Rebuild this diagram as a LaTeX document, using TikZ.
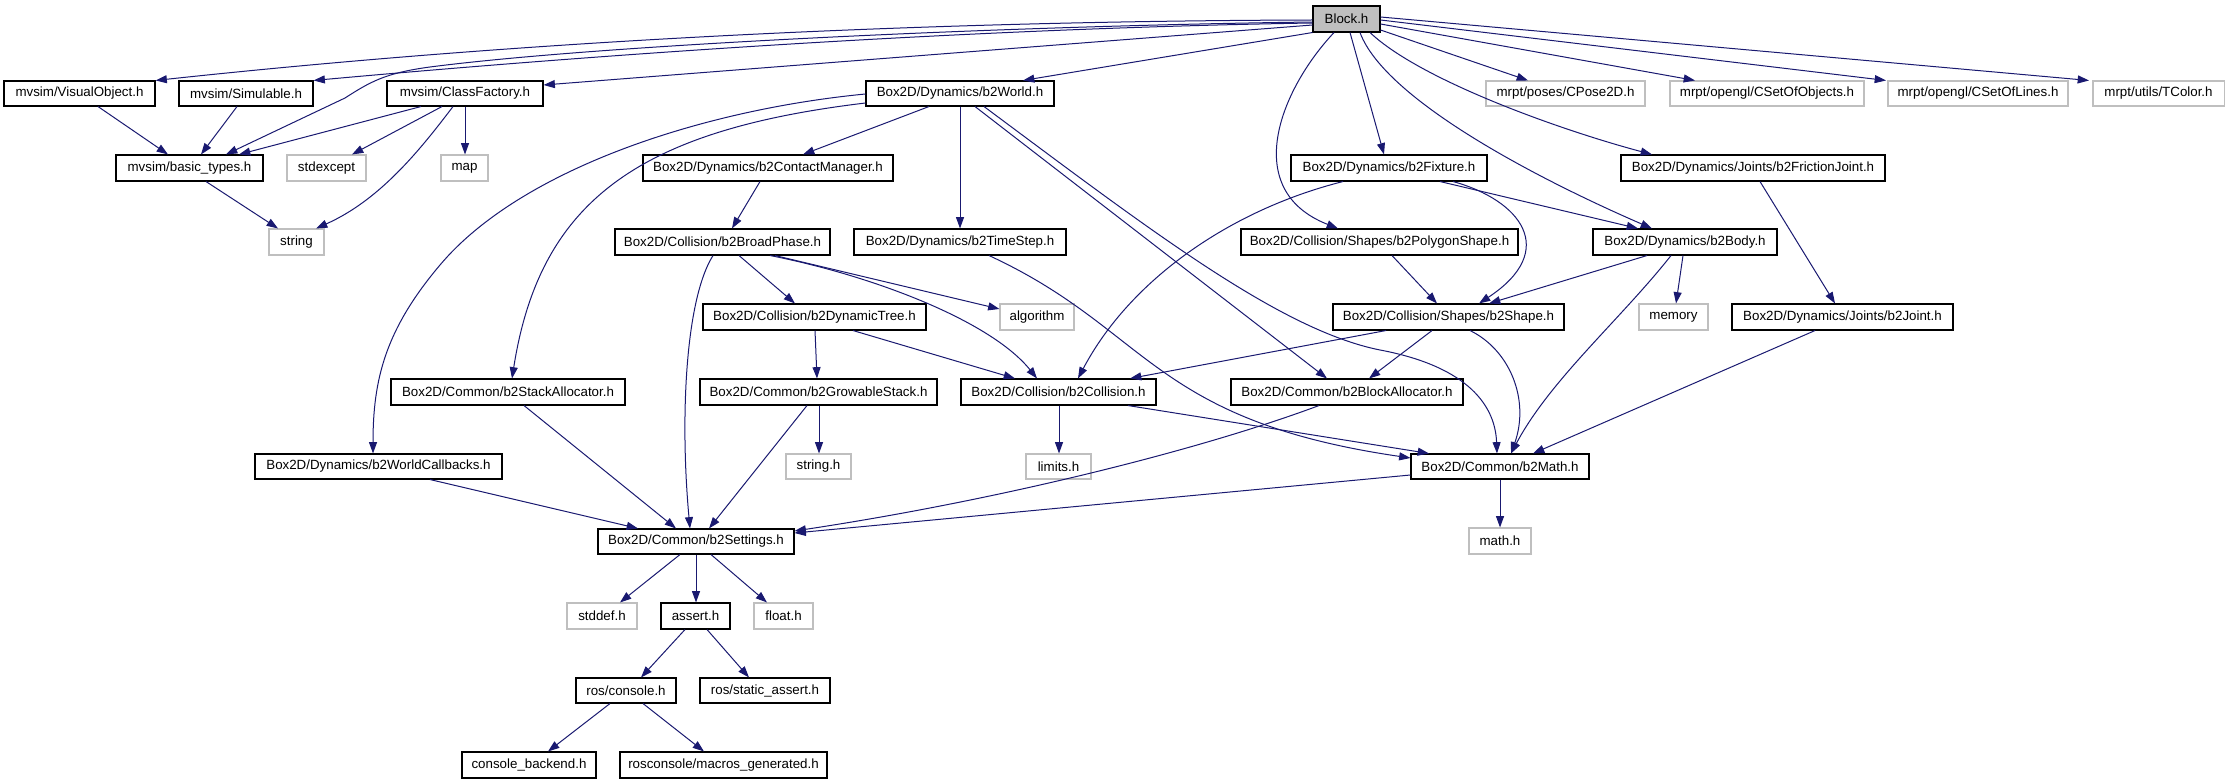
\documentclass[tikz,border=0pt]{standalone}
\usepackage{fontspec}
\setmainfont{Liberation Sans}
\usetikzlibrary{arrows.meta}
\definecolor{edgec}{HTML}{191970}
\definecolor{grayb}{HTML}{BFBFBF}
\tikzset{
  nd/.style={draw=black, line width=0.8pt, inner sep=0pt, font=\fontsize{10}{12}\selectfont, text=black},
  ext/.style={nd, draw=grayb},
  root/.style={nd, fill=grayb},
  e/.style={draw=edgec, line width=0.75pt, -{Triangle[length=8.5pt,width=6pt]}},
}
\newcommand\bx[7]{\node[#1, minimum width={(#5-#3)*0.75pt}, minimum height={(#6-#4)*0.75pt}] (#2) at ({(#3+#5)/2},{(#4+#6)/2}) {#7};}
\begin{document}
\begin{tikzpicture}[x=0.75pt,y=-0.75pt]
\useasboundingbox (0,0) rectangle (2229,784);
% nodes
\bx{root}{blk}{1313}{6}{1380}{32}{Block.h}
\bx{nd}{vis}{4}{81}{155}{106}{mvsim/VisualObject.h}
\bx{nd}{sim}{179}{81}{313}{106}{mvsim/Simulable.h}
\bx{nd}{cf}{387}{81}{543}{106}{mvsim/ClassFactory.h}
\bx{nd}{wld}{866}{81}{1054}{106}{Box2D/Dynamics/b2World.h}
\bx{ext}{pose}{1486}{81}{1645}{106}{mrpt/poses/CPose2D.h}
\bx{ext}{cso}{1670}{81}{1864}{106}{mrpt/opengl/CSetOfObjects.h}
\bx{ext}{csl}{1888}{81}{2068}{106}{mrpt/opengl/CSetOfLines.h}
\bx{ext}{tcol}{2093}{81}{2224}{106}{mrpt/utils/TColor.h}
\bx{nd}{bt}{116}{155}{263}{181}{mvsim/basic\_types.h}
\bx{ext}{stdx}{287}{155}{366}{181}{stdexcept}
\bx{ext}{map}{441}{155}{488}{181}{map}
\bx{nd}{cm}{643}{155}{893}{181}{Box2D/Dynamics/b2ContactManager.h}
\bx{nd}{fix}{1291}{155}{1487}{181}{Box2D/Dynamics/b2Fixture.h}
\bx{nd}{fj}{1621}{155}{1885}{181}{Box2D/Dynamics/Joints/b2FrictionJoint.h}
\bx{ext}{str}{269}{229}{324}{255}{string}
\bx{nd}{bp}{615}{229}{830}{255}{Box2D/Collision/b2BroadPhase.h}
\bx{nd}{ts}{854}{229}{1066}{255}{Box2D/Dynamics/b2TimeStep.h}
\bx{nd}{poly}{1241}{229}{1518}{255}{Box2D/Collision/Shapes/b2PolygonShape.h}
\bx{nd}{body}{1593}{229}{1777}{255}{Box2D/Dynamics/b2Body.h}
\bx{nd}{dt}{703}{304}{926}{330}{Box2D/Collision/b2DynamicTree.h}
\bx{ext}{alg}{1000}{304}{1074}{330}{algorithm}
\bx{nd}{shp}{1333}{304}{1564}{330}{Box2D/Collision/Shapes/b2Shape.h}
\bx{ext}{mem}{1639}{304}{1708}{330}{memory}
\bx{nd}{jnt}{1732}{304}{1953}{330}{Box2D/Dynamics/Joints/b2Joint.h}
\bx{nd}{sa}{391}{379}{625}{405}{Box2D/Common/b2StackAllocator.h}
\bx{nd}{gs}{700}{379}{937}{405}{Box2D/Common/b2GrowableStack.h}
\bx{nd}{col}{961}{379}{1156}{405}{Box2D/Collision/b2Collision.h}
\bx{nd}{ba}{1231}{379}{1463}{405}{Box2D/Common/b2BlockAllocator.h}
\bx{nd}{wcb}{255}{454}{502}{479}{Box2D/Dynamics/b2WorldCallbacks.h}
\bx{ext}{strh}{786}{454}{851}{479}{string.h}
\bx{ext}{lim}{1026}{454}{1091}{479}{limits.h}
\bx{nd}{mth}{1411}{454}{1589}{479}{Box2D/Common/b2Math.h}
\bx{nd}{set}{598}{529}{794}{554}{Box2D/Common/b2Settings.h}
\bx{ext}{mathh}{1469}{528}{1531}{554}{math.h}
\bx{ext}{stdd}{567}{603}{637}{629}{stddef.h}
\bx{nd}{asrt}{661}{603}{730}{629}{assert.h}
\bx{ext}{flt}{754}{603}{813}{629}{float.h}
\bx{nd}{rcon}{576}{678}{676}{703}{ros/console.h}
\bx{nd}{rsa}{700}{678}{830}{703}{ros/static\_assert.h}
\bx{nd}{cbk}{462}{752}{596}{778}{console\_backend.h}
\bx{nd}{mgen}{620}{752}{827}{778}{rosconsole/macros\_generated.h}
% Block.h edges
\draw[e] (blk.west |- 0,20) .. controls (950,21) and (550,38) .. (vis.north east);
\draw[e] (blk.west |- 0,22) .. controls (1000,26) and (600,45) .. (430,67) .. controls (385,73) and (370,82) .. (345,98) -- (226,0 |- bt.north);
\draw[e] (blk.west |- 0,23) .. controls (1000,28) and (650,50) .. (sim.north east);
\draw[e] (blk.west |- 0,25) -- (cf.east |- 0,85);
\draw[e] (blk.south west) -- (1023,0 |- wld.north);
\draw[e] (blk.east |- 0,30) -- (1528,0 |- pose.north);
\draw[e] (blk.east |- 0,24) -- (1695,0 |- cso.north);
\draw[e] (blk.east |- 0,20) -- (1886,0 |- csl.north);
\draw[e] (blk.east |- 0,17) -- (2089,0 |- tcol.north);
\draw[e] (1370,0 |- blk.south) .. controls (1420,80) and (1560,130) .. (1652,0 |- fj.north);
\draw[e] (1360,0 |- blk.south) .. controls (1385,100) and (1540,180) .. (1652,0 |- body.north);
\draw[e] (1350,0 |- blk.south) -- (1384,0 |- fix.north);
\draw[e] (1334,0 |- blk.south) .. controls (1280,90) and (1240,190) .. (1338,0 |- poly.north);
% mvsim
\draw[e] (98,0 |- vis.south) -- (168,0 |- bt.north);
\draw[e] (237,0 |- sim.south) -- (201,0 |- bt.north);
\draw[e] (421,0 |- cf.south) -- (239,0 |- bt.north);
\draw[e] (442,0 |- cf.south) -- (352,0 |- stdx.north);
\draw[e] (453,0 |- cf.south) .. controls (420,150) and (380,200) .. (316,0 |- str.north);
\draw[e] (465,0 |- cf.south) -- (465,0 |- map.north);
\draw[e] (206,0 |- bt.south) -- (278,0 |- str.north);
% b2World
\draw[e] (929,0 |- wld.south) -- (803,0 |- cm.north);
\draw[e] (960,0 |- wld.south) -- (960,0 |- ts.north);
\draw[e] (975,0 |- wld.south) -- (1327,0 |- ba.north);
\draw[e] (984,0 |- wld.south) .. controls (1150,230) and (1280,330) .. (1380,350) .. controls (1460,365) and (1495,400) .. (1497,0 |- mth.north);
\draw[e] (wld.west |- 0,103) .. controls (640,130) and (540,200) .. (512,0 |- sa.north);
\draw[e] (wld.west |- 0,94) .. controls (700,110) and (520,170) .. (440,265) .. controls (385,330) and (373,380) .. (373,0 |- wcb.north);
% contact manager, broadphase
\draw[e] (760,0 |- cm.south) -- (732,0 |- bp.north);
\draw[e] (739,0 |- bp.south) -- (795,0 |- dt.north);
\draw[e] (775,0 |- bp.south) -- (alg.west |- 0,309);
\draw[e] (770,0 |- bp.south) .. controls (870,275) and (990,320) .. (1037,0 |- col.north);
\draw[e] (713,0 |- bp.south) .. controls (685,300) and (680,420) .. (690,0 |- set.north);
% timestep
\draw[e] (989,0 |- ts.south) .. controls (1150,330) and (1150,420) .. (mth.west |- 0,458);
% dynamic tree, growable stack
\draw[e] (815,0 |- dt.south) -- (817,0 |- gs.north);
\draw[e] (853,0 |- dt.south) -- (1015,0 |- col.north);
\draw[e] (819,0 |- gs.south) -- (819,0 |- strh.north);
\draw[e] (807,0 |- gs.south) -- (709,0 |- set.north);
% collision
\draw[e] (1059,0 |- col.south) -- (1059,0 |- lim.north);
\draw[e] (1128,0 |- col.south) -- (1429,0 |- mth.north);
% block allocator, math
\draw[e] (1319,0 |- ba.south) .. controls (1200,450) and (1000,500) .. (set.east |- 0,531);
\draw[e] (mth.west |- 0,475) -- (set.east |- 0,533);
\draw[e] (1500,0 |- mth.south) -- (1500,0 |- mathh.north);
% stack allocator, world callbacks
\draw[e] (430,0 |- wcb.south) -- (638,0 |- set.north);
\draw[e] (524,0 |- sa.south) -- (676,0 |- set.north);
% settings and below
\draw[e] (680,0 |- set.south) -- (620,0 |- stdd.north);
\draw[e] (696,0 |- set.south) -- (696,0 |- asrt.north);
\draw[e] (711,0 |- set.south) -- (767,0 |- flt.north);
\draw[e] (685,0 |- asrt.south) -- (641,0 |- rcon.north);
\draw[e] (707,0 |- asrt.south) -- (749,0 |- rsa.north);
\draw[e] (610,0 |- rcon.south) -- (548,0 |- cbk.north);
\draw[e] (643,0 |- rcon.south) -- (704,0 |- mgen.north);
% fixture
\draw[e] (1343,0 |- fix.south) .. controls (1230,210) and (1130,280) .. (1078,0 |- col.north);
\draw[e] (1440,0 |- fix.south) -- (1638,0 |- body.north);
\draw[e] (1453,0 |- fix.south) .. controls (1520,200) and (1560,250) .. (1479,0 |- shp.north);
% polygon shape
\draw[e] (1392,0 |- poly.south) -- (1437,0 |- shp.north);
% body
\draw[e] (1647,0 |- body.south) -- (1489,0 |- shp.north);
\draw[e] (1683,0 |- body.south) -- (1676,0 |- mem.north);
\draw[e] (1671,0 |- body.south) .. controls (1620,320) and (1550,380) .. (1511,0 |- mth.north);
% shape
\draw[e] (1386,0 |- shp.south) -- (1130,0 |- col.north);
\draw[e] (1432,0 |- shp.south) -- (1369,0 |- ba.north);
\draw[e] (1470,0 |- shp.south) .. controls (1510,350) and (1530,400) .. (1511,0 |- mth.north);
% joints
\draw[e] (1760,0 |- fj.south) -- (1835,0 |- jnt.north);
\draw[e] (1815,0 |- jnt.south) -- (1533,0 |- mth.north);
\end{tikzpicture}
\end{document}
